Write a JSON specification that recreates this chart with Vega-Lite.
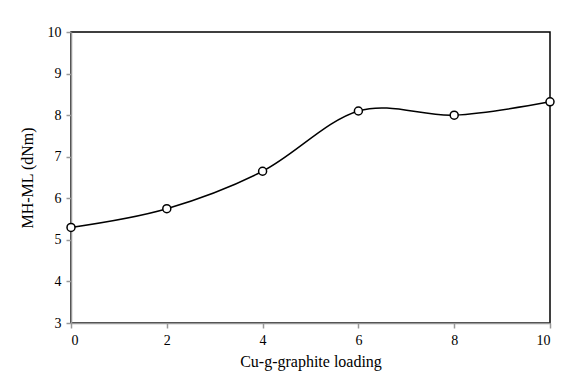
{
  "$schema": "https://vega.github.io/schema/vega-lite/v6.json",
  "width": 479,
  "height": 291,
  "autosize": "none",
  "padding": {"left": 71, "top": 32, "right": 14, "bottom": 61},
  "background": "white",
  "config": {
    "view": {"stroke": "black", "strokeWidth": 1.5},
    "font": "Liberation Serif",
    "axis": {
      "labelFont": "Liberation Serif",
      "titleFont": "Liberation Serif",
      "labelFontSize": 14,
      "titleFontSize": 16,
      "titleFontWeight": "normal",
      "labelColor": "black",
      "titleColor": "black",
      "domainColor": "#999999",
      "domainWidth": 1.5,
      "tickColor": "#999999",
      "tickWidth": 1.5,
      "tickSize": 5,
      "grid": false
    }
  },
  "data": {
    "values": [
      {"loading": 0, "value": 5.3},
      {"loading": 2, "value": 5.75},
      {"loading": 4, "value": 6.65},
      {"loading": 6, "value": 8.1},
      {"loading": 8, "value": 8.0},
      {"loading": 10, "value": 8.32}
    ]
  },
  "encoding": {
    "x": {
      "field": "loading",
      "type": "quantitative",
      "scale": {"domain": [0, 10], "nice": false},
      "axis": {"values": [0, 2, 4, 6, 8, 10], "title": "Cu-g-graphite loading", "labelPadding": 5, "titlePadding": 6}
    },
    "y": {
      "field": "value",
      "type": "quantitative",
      "scale": {"domain": [3, 10], "nice": false, "zero": false},
      "axis": {"values": [3, 4, 5, 6, 7, 8, 9, 10], "title": "MH-ML  (dNm)", "labelPadding": 5, "titlePadding": 12}
    }
  },
  "layer": [
    {
      "mark": {"type": "line", "interpolate": "cardinal", "color": "black", "strokeWidth": 1.5}
    },
    {
      "mark": {"type": "point", "shape": "circle", "filled": true, "fill": "white", "stroke": "black", "strokeWidth": 1.5, "size": 64, "opacity": 1}
    }
  ]
}
